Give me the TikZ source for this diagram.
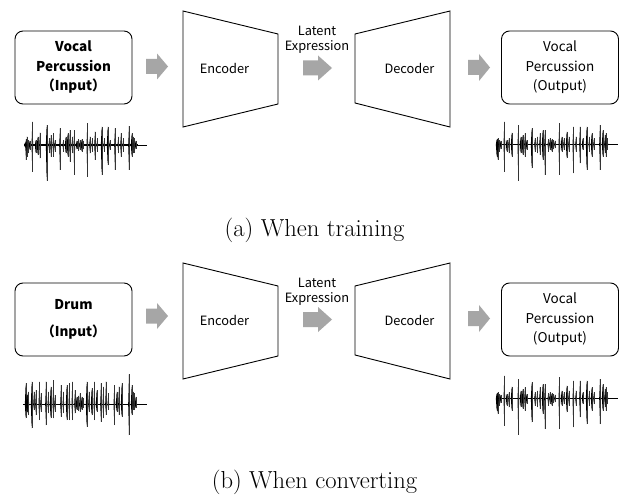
\documentclass[tikz,border=0pt]{standalone}
\usepackage{fontspec}
\newfontfamily\labfont{Noto Sans CJK JP}
\tikzset{
  iobox/.style={draw=black, line width=0.9pt, rounded corners=8pt, align=center,
    minimum width=117pt, minimum height=73pt, inner sep=0pt,
    font={\labfont\fontsize{13.5}{19.5}\selectfont}},
  lbl/.style={font={\labfont\fontsize{12.8}{16}\selectfont}, inner sep=0pt},
  latent/.style={font={\labfont\fontsize{12.8}{15.5}\selectfont}, align=center, inner sep=0pt},
  captext/.style={font={\fontsize{24.6}{28}\selectfont}, inner sep=0pt, anchor=base},
  coder/.style={draw=black, line width=0.9pt, line join=miter},
  blockarrow/.style={fill={rgb,255:red,166;green,166;blue,166}},
  wavefill/.style={fill=black},
}
% block arrow: start x, head x, tip x, centre y, shaft half height, head half height
\newcommand\blockarrow[6]{%
  \fill[blockarrow] (#1,#4-#5) -- (#2,#4-#5) -- (#2,#4-#6) -- (#3,#4)
    -- (#2,#4+#6) -- (#2,#4+#5) -- (#1,#4+#5) -- cycle;}
% waveform spikes: x, top, bottom (axis in \ax)
\newcommand\spikes[1]{%
  \foreach \sx/\st/\sb in {#1} {
    \fill[wavefill] (\sx-2.4,\ax) -- (\sx,\st) -- (\sx+2.4,\ax) -- (\sx,\sb) -- cycle;
    \draw[line width=0.3pt, black!80] (\sx,\st) -- (\sx,\sb);
  }}
% waveform of the vocal percussion input
\newcommand\waveA{%
  \def\ax{105}%
  \draw[line width=1.4pt] (28,\ax) -- (368,\ax);
  \draw[line width=0.7pt] (368,\ax) -- (395,\ax);
  \fill (32,\ax) ellipse (4 and 8); \fill (195,\ax) ellipse (9 and 5);
  \fill (358,\ax) ellipse (5 and 8);
  \spikes{33/88/150, 36/80/140, 40/90/130, 44/92/120,
    52/35/185, 62/90/130, 68/80/135, 75/68/145, 95/45/212, 103/85/130,
    108/75/140, 115/70/140, 120/90/125, 135/55/180, 145/90/125, 152/80/130,
    158/70/140, 165/60/155, 172/80/130, 178/60/195,
    185/92/118, 190/88/122, 195/90/120, 200/88/125, 205/92/118,
    217/40/200, 225/80/130, 232/85/125, 240/65/150, 247/85/125, 260/50/195,
    268/85/125, 278/50/165, 285/90/120, 300/55/180, 310/80/130, 318/70/140,
    325/85/125, 342/48/180, 350/70/140, 355/80/130, 358/85/128, 362/92/118}}
% waveform of the vocal percussion output
\newcommand\waveB{%
  \def\ax{103}%
  \draw[line width=1.4pt] (18,\ax) -- (358,\ax);
  \draw[line width=0.7pt] (358,\ax) -- (385,\ax);
  \fill (23,\ax) ellipse (4 and 8); \fill (185,\ax) ellipse (9 and 5);
  \fill (348,\ax) ellipse (5 and 8);
  \spikes{20/88/140, 23/85/150, 27/90/125, 32/92/118,
    43/35/185, 50/90/125, 57/85/130, 65/68/140, 85/45/212, 92/80/130,
    98/75/135, 105/70/140, 110/90/120, 125/55/175, 135/85/125, 142/80/130,
    150/70/135, 158/60/150, 165/60/195,
    175/88/125, 180/85/120, 185/88/125, 190/90/118, 195/92/115,
    208/40/195, 215/80/125, 222/85/120, 230/65/145, 237/80/125, 250/50/190,
    258/80/125, 270/50/160, 278/85/120, 290/50/180, 298/80/125, 305/70/140,
    312/85/120, 330/45/180, 338/60/140, 345/75/130, 348/70/140, 352/85/120}}
% waveform of the drum input
\newcommand\waveC{%
  \def\ax{118}%
  \draw[line width=1.4pt] (25,\ax) -- (368,\ax);
  \draw[line width=0.7pt] (368,\ax) -- (395,\ax);
  \fill (35,\ax) ellipse (4 and 8); \fill (195,\ax) ellipse (9 and 5);
  \fill (358,\ax) ellipse (5 and 8);
  \spikes{32/55/160, 35/90/140, 38/85/145, 40/80/150,
    50/50/190, 57/80/135, 63/75/150, 73/50/165, 78/85/140, 93/50/180,
    100/80/145, 107/65/160, 115/45/160, 120/90/140, 138/60/155, 145/80/145,
    155/60/165, 163/55/165, 172/50/165, 180/75/145,
    185/95/135, 190/92/138, 195/85/140, 200/95/135, 205/100/130,
    215/50/185, 222/80/140, 230/70/150, 238/50/165, 245/75/140, 258/55/170,
    265/65/160, 273/50/150, 280/85/135, 298/60/180, 305/80/140, 312/65/150,
    320/55/155, 342/28/210, 350/60/150, 355/80/135, 358/85/135, 362/95/130}}
\newcommand\placewave[3]{%
  \begin{scope}[shift={(#1,#2)}]\begin{scope}[x=1/3pt,y=-1/3pt]#3\end{scope}\end{scope}}

\begin{document}
\begin{tikzpicture}[x=1pt,y=-1pt]
\useasboundingbox[fill=white] (0,0) rectangle (624,495);

% ---------------- training ----------------
\node[iobox] (vin) at (73.5,67.5) {\textbf{Vocal}\\\textbf{Percussion}\\\textbf{（Input）}};
\coordinate (enc-tl) at (183,11);  \coordinate (enc-tr) at (278,34);
\coordinate (enc-br) at (278,104); \coordinate (enc-bl) at (183,127);
\draw[coder] (enc-tl) -- (enc-tr) -- (enc-br) -- (enc-bl) -- cycle;
\node[lbl] (enc) at (224.5,68) {Encoder};
\coordinate (dec-tl) at (355,34);  \coordinate (dec-tr) at (450,11);
\coordinate (dec-br) at (450,127); \coordinate (dec-bl) at (355,103);
\draw[coder] (dec-tl) -- (dec-tr) -- (dec-br) -- (dec-bl) -- cycle;
\node[lbl] (dec) at (409.5,68) {Decoder};
\node[latent] (lat) at (317,40) {Latent\\Expression};
\node[iobox] (vout) at (560,67.5) {Vocal\\Percussion\\(Output)};
\blockarrow{146}{157}{168}{66.5}{7.5}{13}
\blockarrow{303}{318}{332}{68}{7.5}{12.5}
\blockarrow{468}{479}{490}{67.5}{7.5}{13.5}
\placewave{15}{110}{\waveA}
\placewave{490}{110}{\waveB}
\node[captext] (capa) at (314.5,236.5) {(a) When training};

% ---------------- converting ----------------
\node[iobox] (din) at (73.5,319.5) {\textbf{Drum}\\[7.5pt]\textbf{（Input）}};
\coordinate (enc2-tl) at (183,263);  \coordinate (enc2-tr) at (278,286);
\coordinate (enc2-br) at (278,356);  \coordinate (enc2-bl) at (183,379);
\draw[coder] (enc2-tl) -- (enc2-tr) -- (enc2-br) -- (enc2-bl) -- cycle;
\node[lbl] (enc2) at (224.5,320) {Encoder};
\coordinate (dec2-tl) at (355,286);  \coordinate (dec2-tr) at (450,263);
\coordinate (dec2-br) at (450,379);  \coordinate (dec2-bl) at (355,355);
\draw[coder] (dec2-tl) -- (dec2-tr) -- (dec2-br) -- (dec2-bl) -- cycle;
\node[lbl] (dec2) at (409.5,320) {Decoder};
\node[latent] (lat2) at (317,292) {Latent\\Expression};
\node[iobox] (vout2) at (560,319.5) {Vocal\\Percussion\\(Output)};
\blockarrow{146}{157}{168}{316}{7.5}{13}
\blockarrow{303}{318}{332}{319.5}{7.5}{12.5}
\blockarrow{468}{479}{490}{318.5}{7.5}{13.5}
\placewave{15}{365}{\waveC}
\placewave{490}{364}{\waveB}
\node[captext] (capb) at (314.5,488.5) {(b) When converting};
\end{tikzpicture}
\end{document}
